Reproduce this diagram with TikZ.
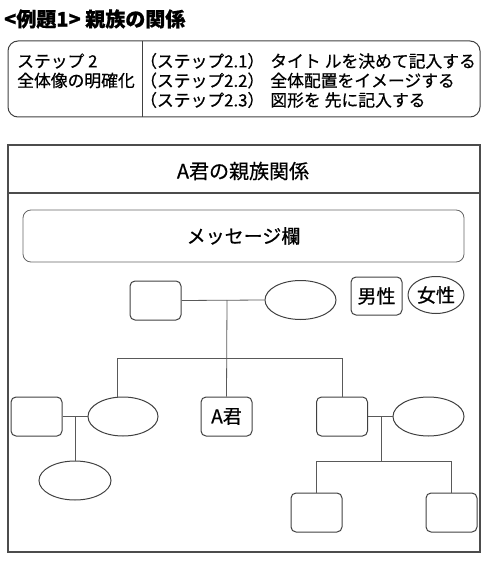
\documentclass[tikz,border=0pt]{standalone}
\usepackage{fontspec}
\setmainfont{Noto Sans CJK JP}[FakeBold=0.6]
\usetikzlibrary{shapes.geometric}
\tikzset{
  ln/.style={draw=black!65, line width=0.8pt},
  sq/.style={draw=black!75, line width=1pt, rounded corners=5pt, minimum width=51pt, minimum height=39pt, inner sep=0pt, font=\fontsize{19}{21}\selectfont},
  el/.style={ellipse, draw=black!75, line width=1pt, minimum width=71pt, minimum height=39pt, inner sep=0pt, font=\fontsize{19}{21}\selectfont},
  stxt/.style={anchor=west, inner sep=0pt, font=\fontsize{16.8}{19}\selectfont},
}
\begin{document}
\begin{tikzpicture}[x=1pt,y=-1pt]
\useasboundingbox (0,0) rectangle (488,561);
% heading
\node[anchor=west, inner sep=0pt, font=\fontsize{20}{22}\selectfont\bfseries] (head) at (4,19) {<例題1> 親族の関係};
% step box
\node[draw=black!75, line width=1pt, rounded corners=10pt, minimum width=472pt, minimum height=76pt, inner sep=0pt] (stepbox) at (244,79) {};
\coordinate (dv1) at (142,41);
\coordinate (dv2) at (142,117);
\draw[draw=black!75, line width=1pt] (dv1) -- (dv2);
\node[stxt] (s1) at (17,61) {ステップ 2};
\node[stxt] (s2) at (17,80.5) {全体像の明確化};
\node[stxt] (r1) at (140,61) {（ステップ2.1）\hspace{6pt}タイト\hspace{4pt}ルを決めて記入する};
\node[stxt] (r2) at (140,80.5) {（ステップ2.2）\hspace{6pt}全体配置をイメージする};
\node[stxt] (r3) at (140,100) {（ステップ2.3）\hspace{6pt}図形を\hspace{4pt}先に記入する};
% main frame
\node[draw=black!70, line width=1.4pt, minimum width=472pt, minimum height=407pt, inner sep=0pt] (frame) at (244,348.5) {};
\coordinate (hd1) at (8,193);
\coordinate (hd2) at (480,193);
\draw[draw=black!70, line width=1.2pt] (hd1) -- (hd2);
\node[inner sep=0pt, font=\fontsize{20}{22}\selectfont] (ftitle) at (243,171) {A君の親族関係};
% message box
\node[draw=black!60, line width=0.8pt, rounded corners=8pt, minimum width=441pt, minimum height=52pt, inner sep=0pt, font=\fontsize{19}{21}\selectfont] (msg) at (243.5,236) {メッセージ欄};
% legend
\node[sq, minimum height=38pt] (male) at (376.5,296) {男性};
\node[el, minimum width=56pt, minimum height=37pt] (female) at (436,295) {女性};
% grandparents
\node[sq] (gf) at (155.5,300.5) {};
\node[el] (gm) at (300.5,300) {};
% generation 2
\node[sq] (f2) at (36.5,416.5) {};
\node[el, minimum width=70pt] (m2) at (123,416.5) {};
\node[sq] (ak) at (226.5,416.5) {A君};
\node[sq] (f3) at (342,416.5) {};
\node[el] (m3) at (428.5,416.5) {};
% generation 3
\node[el, minimum width=72pt] (c1) at (75,480.5) {};
\node[sq] (c2) at (316.5,512.5) {};
\node[sq] (c3) at (451.5,512.5) {};
% connectors
\coordinate (j1) at (227,300);
\coordinate (b1) at (227,358);
\coordinate (b2) at (117,358);
\coordinate (b3) at (342,358);
\draw[ln] (gf.east) -- (gm.west);
\draw[ln] (j1) -- (ak.north);
\draw[ln] (b2) -- (b3);
\draw[ln] (b2) -- (b2 |- m2.north);
\draw[ln] (b3) -- (f3.north);
\coordinate (j2) at (75,416.5);
\draw[ln] (f2.east) -- (m2.west);
\draw[ln] (j2) -- (c1.north);
\coordinate (j3) at (381,416.5);
\coordinate (k1) at (381,461);
\coordinate (k2) at (316.5,461);
\coordinate (k3) at (451.5,461);
\draw[ln] (f3.east) -- (m3.west);
\draw[ln] (j3) -- (k1);
\draw[ln] (k2) -- (k3);
\draw[ln] (k2) -- (c2.north);
\draw[ln] (k3) -- (c3.north);
\end{tikzpicture}
\end{document}
